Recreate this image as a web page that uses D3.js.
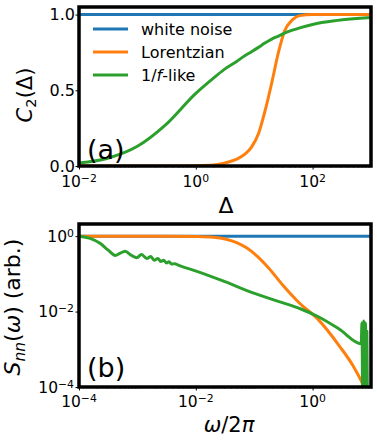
<title>C2 and noise spectra</title>
<script src="https://cdn.jsdelivr.net/npm/d3@7"></script>
<style>
    body { margin: 0; background: #fff; }
    svg text { font-family: "DejaVu Sans", sans-serif; fill: #000; }
</style>
<body>
<script>
    // ---- panel (a): C2(Δ) ----
    let deltaGrid = [0.01, 0.03, 0.1, 0.3, 1, 2, 3, 5, 7, 9, 12, 15, 20, 26, 33, 45, 60, 100, 250, 1000];
    let c2White = [1, 1, 1, 1, 1, 1, 1, 1, 1, 1, 1, 1, 1, 1, 1, 1, 1, 1, 1, 1];
    let c2Lorentz = [0, 0, 0, 0, 0.002, 0.006, 0.018, 0.045, 0.08, 0.125, 0.22, 0.35, 0.55, 0.75, 0.89, 0.965, 0.993, 1, 1, 1];
    let c2OneF = [0.02, 0.05, 0.13, 0.27, 0.48, 0.58, 0.635, 0.69, 0.73, 0.755, 0.785, 0.81, 0.838, 0.858, 0.877, 0.897, 0.912, 0.935, 0.96, 0.98];

    // ---- panel (b): S_nn(ω) ----
    let freqWhite = [1e-4, 10];
    let sWhite = [1, 1];
    let freqLorentz = [1e-4, 0.00316, 0.01, 0.02, 0.033, 0.05, 0.074, 0.112, 0.178, 0.31, 0.6, 1.23, 2.9, 4.9, 7.2, 8.3];
    let sLorentz = [1, 1, 0.977, 0.933, 0.83, 0.676, 0.49, 0.295, 0.141, 0.05, 0.0166, 0.0063, 0.0012, 0.00037, 0.00012, 0.00007];
    let freqOneF = [1e-4, 1.55e-4, 2.29e-4, 3.16e-4, 4.17e-4, 5.0e-4, 6.17e-4, 7.9e-4, 9.8e-4, 1.17e-3, 1.45e-3, 1.7e-3,
        1.95e-3, 2.24e-3, 2.51e-3, 2.82e-3, 3.16e-3, 3.47e-3, 3.89e-3, 4.37e-3, 5.0e-3, 7.0e-3,
        0.0117, 0.0316, 0.083, 0.25, 0.63, 1.23, 2.8, 6.8, 7.0, 7.24, 7.5, 7.76, 8.04, 8.32, 8.5, 8.7];
    let sOneF = [1, 0.87, 0.646, 0.427, 0.309, 0.347, 0.398, 0.309, 0.269, 0.324, 0.257, 0.288,
        0.229, 0.257, 0.214, 0.229, 0.195, 0.209, 0.182, 0.186, 0.17, 0.142,
        0.11, 0.062, 0.034, 0.019, 0.0117, 0.0074, 0.0035, 0.0014, 0.005, 0.00003, 0.0056, 0.00003, 0.005, 0.00003, 0.003, 0.00003];

    let legendNames = ["white noise", "Lorentzian", "1/f-like"];
    let colors = ["#1f77b4", "#ff7f0e", "#2ca02c"];

    let W = 377, H = 443;
    let svg = d3.select("body").append("svg").attr("width", W).attr("height", H);

    let left = 79, right = 371;

    // superscript label helper, e.g. 10^-2
    function powLabel(sel, exp) {
        sel.append("tspan").text("10");
        sel.append("tspan").attr("dy", "-0.45em").attr("font-size", "0.7em")
            .text(exp < 0 ? "\u2212" + (-exp) : exp);
    }

    function drawLines(g, clipId, xs, ys, series) {
        g.append("clipPath").attr("id", clipId).append("rect")
            .attr("x", xs.range()[0]).attr("y", ys.range()[1])
            .attr("width", xs.range()[1] - xs.range()[0]).attr("height", ys.range()[0] - ys.range()[1]);
        let lg = g.append("g").attr("clip-path", `url(#${clipId})`);
        series.forEach((s, i) => {
            let pts = s.x.map((v, j) => [v, s.y[j]]);
            lg.append("path").datum(pts)
                .attr("fill", "none").attr("stroke", colors[i]).attr("stroke-width", 3)
                .attr("stroke-linejoin", "round")
                .attr("d", d3.line().x(d => xs(d[0])).y(d => ys(d[1])).curve(d3.curveMonotoneX));
        });
    }

    function frame(g, xs, ys) {
        g.append("rect").attr("x", xs.range()[0]).attr("y", ys.range()[1])
            .attr("width", xs.range()[1] - xs.range()[0]).attr("height", ys.range()[0] - ys.range()[1])
            .attr("fill", "none").attr("stroke", "#000").attr("stroke-width", 3.5);
    }

    function minorTicks(lo, hi) {
        let out = [];
        for (let e = lo; e < hi; e++)
            for (let k = 2; k <= 9; k++) out.push(k * Math.pow(10, e));
        return out;
    }

    // ================= panel (a) =================
    let xA = d3.scaleLog().domain([1e-2, 1e3]).range([left, right]);
    let yA = d3.scaleLinear().domain([0, 1.05]).range([166, 7]);
    let gA = svg.append("g");

    drawLines(gA, "clipA", xA, yA, [
        {x: deltaGrid, y: c2White},
        {x: deltaGrid, y: c2Lorentz},
        {x: deltaGrid, y: c2OneF}
    ]);

    gA.append("g").attr("transform", `translate(0,${yA.range()[0]})`)
        .call(d3.axisBottom(xA).tickValues(minorTicks(-2, 3)).tickSize(2).tickFormat(""))
        .call(a => a.select(".domain").remove())
        .call(a => a.selectAll("line").attr("stroke", "#444").attr("stroke-width", 0.6));
    gA.append("g").attr("transform", `translate(0,${yA.range()[0]})`)
        .call(d3.axisBottom(xA).tickValues([1e-2, 1, 1e2]).tickSize(3.5).tickFormat(""))
        .call(a => a.select(".domain").remove());
    gA.append("g").attr("transform", `translate(${left},0)`)
        .call(d3.axisLeft(yA).tickValues([0, 0.5, 1]).tickSize(3.5).tickFormat(""))
        .call(a => a.select(".domain").remove());

    [-2, 0, 2].forEach(e => {
        gA.append("text").attr("x", xA(Math.pow(10, e))).attr("y", 187)
            .attr("text-anchor", "middle").attr("font-size", 15.5)
            .call(powLabel, e);
    });
    [0, 0.5, 1].forEach(v => {
        gA.append("text").attr("x", 75).attr("y", yA(v) + 5.5)
            .attr("text-anchor", "end").attr("font-size", 16)
            .text(d3.format(".1f")(v));
    });

    frame(gA, xA, yA);

    gA.append("text").attr("x", 87).attr("y", 159).attr("font-size", 27).text("(a)");

    gA.append("text").attr("x", 226).attr("y", 213).attr("text-anchor", "middle")
        .attr("font-size", 22).text("\u0394");

    let ylabA = gA.append("text").attr("transform", "translate(32,95) rotate(-90)")
        .attr("text-anchor", "middle").attr("font-size", 21);
    ylabA.append("tspan").attr("font-style", "italic").text("C");
    ylabA.append("tspan").attr("font-size", "0.7em").attr("dy", "0.3em").text("2");
    ylabA.append("tspan").attr("dy", "-0.21em").text("(\u0394)");

    // legend
    let leg = gA.append("g");
    legendNames.forEach((name, i) => {
        let ly = 29 + i * 23;
        leg.append("line").attr("x1", 93).attr("x2", 128).attr("y1", ly).attr("y2", ly)
            .attr("stroke", colors[i]).attr("stroke-width", 3);
        let t = leg.append("text").attr("x", 141).attr("y", ly + 6).attr("font-size", 16);
        if (name === "1/f-like") {
            t.append("tspan").text("1/");
            t.append("tspan").attr("font-style", "italic").text("f");
            t.append("tspan").text("-like");
        } else t.text(name);
    });

    // ================= panel (b) =================
    let xB = d3.scaleLog().domain([1e-4, 10]).range([left, right]);
    let yB = d3.scaleLog().domain([1e-4, 2.1]).range([387, 224]);
    let gB = svg.append("g");

    drawLines(gB, "clipB", xB, yB, [
        {x: freqWhite, y: sWhite},
        {x: freqLorentz, y: sLorentz},
        {x: freqOneF, y: sOneF}
    ]);

    gB.append("g").attr("transform", `translate(0,${yB.range()[0]})`)
        .call(d3.axisBottom(xB).tickValues(minorTicks(-4, 1).concat([1e-3, 1e-1, 10])).tickSize(2).tickFormat(""))
        .call(a => a.select(".domain").remove())
        .call(a => a.selectAll("line").attr("stroke", "#444").attr("stroke-width", 0.6));
    gB.append("g").attr("transform", `translate(0,${yB.range()[0]})`)
        .call(d3.axisBottom(xB).tickValues([1e-4, 1e-2, 1]).tickSize(3.5).tickFormat(""))
        .call(a => a.select(".domain").remove());
    gB.append("g").attr("transform", `translate(${left},0)`)
        .call(d3.axisLeft(yB).tickValues([1e-4, 1e-2, 1]).tickSize(3.5).tickFormat(""))
        .call(a => a.select(".domain").remove());

    [-4, -2, 0].forEach(e => {
        gB.append("text").attr("x", xB(Math.pow(10, e))).attr("y", 407)
            .attr("text-anchor", "middle").attr("font-size", 15.5)
            .call(powLabel, e);
        gB.append("text").attr("x", 74).attr("y", yB(Math.pow(10, e)) + 5.5)
            .attr("text-anchor", "end").attr("font-size", 15.5)
            .call(powLabel, e);
    });

    frame(gB, xB, yB);

    gB.append("text").attr("x", 87).attr("y", 377).attr("font-size", 27).text("(b)");

    let xlabB = gB.append("text").attr("x", 229).attr("y", 432).attr("text-anchor", "middle")
        .attr("font-size", 21);
    xlabB.append("tspan").attr("font-style", "italic").text("\u03c9");
    xlabB.append("tspan").text("/2");
    xlabB.append("tspan").attr("font-style", "italic").text("\u03c0");

    let ylabB = gB.append("text").attr("transform", "translate(20,307) rotate(-90)")
        .attr("text-anchor", "middle").attr("font-size", 22);
    ylabB.append("tspan").attr("font-style", "italic").text("S");
    ylabB.append("tspan").attr("font-style", "italic").attr("font-size", "0.7em").attr("dy", "0.3em").text("nn");
    ylabB.append("tspan").attr("dy", "-0.21em").text("(");
    ylabB.append("tspan").attr("font-style", "italic").text("\u03c9");
    ylabB.append("tspan").text(") (arb.)");
</script>
</body>
